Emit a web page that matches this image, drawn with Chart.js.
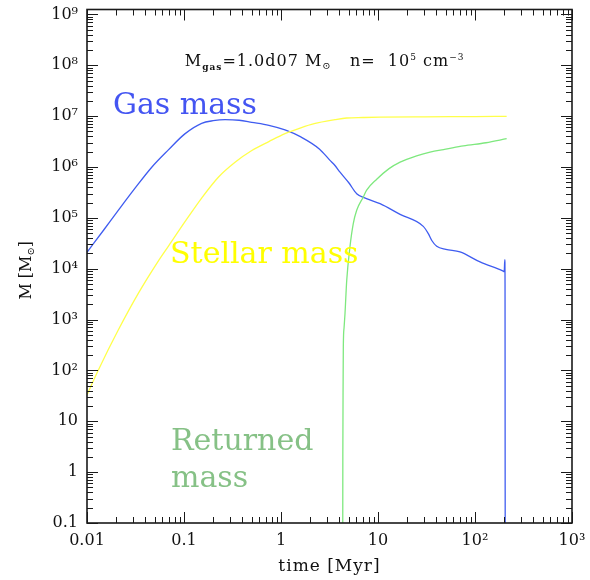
<!DOCTYPE html>
<html><head><meta charset="utf-8">
<script src="https://cdn.jsdelivr.net/npm/chart.js@4"></script>
<style>html,body{margin:0;padding:0;background:#fff}canvas{display:block}</style>
</head><body>
<canvas id="c" width="590" height="580"></canvas>
<script>
// ---- data (time in Myr, mass in solar masses) ----
const gasTime = [0.01,0.015,0.021,0.031,0.0465,0.069,0.102,0.152,0.2,0.265,0.37,0.5,0.75,1.1,1.6,2.5,3.2,3.6,4.06,5.0,6.03,7.6,10.5,16.9,29.3,33,36,40.3,50,70,112.7,193,200,203,204,205];
const gasMass = [2.1e4,5.9e4,1.4e5,3.74e5,9.9e5,2.17e6,4.48e6,7.23e6,8.13e6,8.53e6,8.3e6,7.55e6,6.6e6,5.36e6,3.9e6,2.24e6,1.35e6,1.07e6,7.9e5,4.9e5,2.99e5,2.38e5,1.9e5,1.17e5,6.8e4,4.9e4,3.55e4,2.76e4,2.4e4,2.14e4,1.36e4,9.1e3,8.8e3,1.5e4,5e3,1e-3];

const starTime = [0.01,0.0131,0.021,0.0338,0.0543,0.0689,0.102,0.152,0.226,0.336,0.5,0.75,1.1,1.6,2.2,3.6,4.75,7,10.5,30,100,212];
const starMass = [33,102,622,3270,1.41e4,2.75e4,8.3e4,2.45e5,6.3e5,1.24e6,2.11e6,3.16e6,4.53e6,5.9e6,7.1e6,8.5e6,9.2e6,9.4e6,9.55e6,9.7e6,9.8e6,9.9e6];

const retTime = [4.32,4.34,4.37,4.39,4.47,4.57,4.76,5.14,5.56,6.03,7.06,7.64,9.7,13,16.9,25,34.4,50,75.9,130,212];
const retMass = [1e-3,2,63,290,700,1.32e3,5.9e3,2.7e4,7.7e4,1.41e5,2.58e5,3.5e5,5.75e5,9.3e5,1.25e6,1.66e6,1.97e6,2.24e6,2.6e6,3.0e6,3.6e6];

const xTickValues = [0.01,0.1,1,10,100,1000];
const xTickLabels = ['0.01','0.1','1','10','10²','10³'];
const yTickValues = [0.1,1,10,100,1e3,1e4,1e5,1e6,1e7,1e8,1e9];
const yTickLabels = ['0.1','1','10','10²','10³','10⁴','10⁵','10⁶','10⁷','10⁸','10⁹'];

const FONT = "'DejaVu Serif', serif";

function pts(xs, ys){ return xs.map((x,i)=>({x:x, y:ys[i]})); }

const frameTicks = {
  id:'frameTicks',
  afterDatasetsDraw(chart){
    const ctx = chart.ctx, a = chart.chartArea;
    const xs = chart.scales.x, ys = chart.scales.y;
    ctx.save();
    ctx.strokeStyle = '#1a1a1a';
    ctx.lineWidth = 1;
    const draw = (scale, horiz) => {
      const lo = Math.floor(Math.log10(scale.min)), hi = Math.ceil(Math.log10(scale.max));
      for (let d = lo; d <= hi; d++) {
        for (let m = 1; m <= 9; m++) {
          const v = m * Math.pow(10, d);
          if (v < scale.min * 0.9999 || v > scale.max * 1.0001) continue;
          const p = Math.round(scale.getPixelForValue(v)) + 0.5;
          const len = (m === 1) ? 11 : 6;
          ctx.beginPath();
          if (horiz) {
            ctx.moveTo(p, a.bottom); ctx.lineTo(p, a.bottom - len);
            ctx.moveTo(p, a.top); ctx.lineTo(p, a.top + len);
          } else {
            ctx.moveTo(a.left, p); ctx.lineTo(a.left + len, p);
            ctx.moveTo(a.right, p); ctx.lineTo(a.right - len, p);
          }
          ctx.stroke();
        }
      }
    };
    draw(xs, true); draw(ys, false);
    ctx.lineWidth = 1.6;
    ctx.strokeRect(a.left, a.top, a.right - a.left, a.bottom - a.top);
    // tick labels
    ctx.fillStyle = '#111';
    ctx.font = '16px ' + FONT;
    ctx.textAlign = 'center';
    ctx.textBaseline = 'middle';
    xTickValues.forEach((v, i) => ctx.fillText(xTickLabels[i], xs.getPixelForValue(v), a.bottom + 18));
    ctx.textAlign = 'right';
    yTickValues.forEach((v, i) => ctx.fillText(yTickLabels[i], a.left - 9, ys.getPixelForValue(v)));
    ctx.restore();
  }
};

function drawRich(ctx, x, y, segs, color){
  let cx = x;
  ctx.fillStyle = color;
  ctx.textBaseline = 'alphabetic';
  ctx.textAlign = 'left';
  for (const s of segs) {
    ctx.font = (s.bold ? 'bold ' : '') + s.size + 'px ' + FONT;
    ctx.fillText(s.t, cx, y + (s.dy || 0));
    cx += ctx.measureText(s.t).width;
  }
  return cx - x;
}

const textLayer = {
  id:'textLayer',
  afterDatasetsDraw(chart){
    const ctx = chart.ctx;
    const xs = chart.scales.x, ys = chart.scales.y, a = chart.chartArea;
    const P = (x, y) => [xs.getPixelForValue(x), ys.getPixelForValue(y)];
    ctx.save();
    // header annotation
    ctx.letterSpacing = '1px';
    let [hx, hy] = P(0.102, 9.5e7);
    drawRich(ctx, hx, hy, [
      {t:'M', size:16},
      {t:'gas', size:9, bold:true, dy:4},
      {t:'=1.0d07 M', size:16},
      {t:'⊙', size:10, dy:3},
      {t:'   n=  10', size:16},
      {t:'5', size:9, dy:-6},
      {t:' cm', size:16},
      {t:'−3', size:9, dy:-6}
    ], '#111');
    ctx.letterSpacing = '0px';
    // curve labels
    ctx.font = '30px ' + FONT;
    ctx.textAlign = 'left';
    ctx.textBaseline = 'alphabetic';
    let p = P(0.01854, 1.08e7);
    ctx.fillStyle = '#4455f2'; ctx.fillText('Gas mass', p[0], p[1]);
    p = P(0.0718, 1.28e4);
    ctx.fillStyle = '#ffff00'; ctx.fillText('Stellar mass', p[0], p[1]);
    p = P(0.0735, 2.78);
    ctx.fillStyle = '#86c186'; ctx.fillText('Returned', p[0], p[1]);
    p = P(0.0735, 0.52);
    ctx.fillText('mass', p[0], p[1]);
    // x axis title
    ctx.fillStyle = '#111';
    ctx.font = '17px ' + FONT;
    ctx.letterSpacing = '1px';
    ctx.textAlign = 'center';
    ctx.fillText('time [Myr]', (a.left + a.right)/2, 571);
    ctx.letterSpacing = '0px';
    // y axis title (rotated)
    ctx.translate(31, (a.top + a.bottom)/2 + 4);
    ctx.rotate(-Math.PI/2);
    ctx.font = '16px ' + FONT;
    const w1 = ctx.measureText('M [M').width;
    ctx.font = '10px ' + FONT;
    const w2 = ctx.measureText('⊙').width;
    ctx.font = '16px ' + FONT;
    const w3 = ctx.measureText(']').width;
    const tot = w1 + w2 + w3;
    drawRich(ctx, -tot/2, 0, [
      {t:'M [M', size:16},
      {t:'⊙', size:10, dy:3},
      {t:']', size:16}
    ], '#111');
    ctx.restore();
  }
};

const lineDs = (label, xs, ys, color) => ({
  label, data: pts(xs, ys), borderColor: color, backgroundColor: color,
  borderWidth: 1.3, pointRadius: 0, fill: false,
  cubicInterpolationMode: 'monotone'
});

new Chart(document.getElementById('c'), {
  type: 'line',
  data: {
    datasets: [
      lineDs('Stellar mass', starTime, starMass, '#ffff4a'),
      lineDs('Returned mass', retTime, retMass, '#7ee87e'),
      lineDs('Gas mass', gasTime, gasMass, '#3f5cf0')
    ]
  },
  options: {
    responsive: false,
    animation: false,
    layout: { padding: { left: 87, right: 18, top: 9.5, bottom: 57 } },
    plugins: { legend: { display: false }, tooltip: { enabled: false } },
    scales: {
      x: { type: 'logarithmic', min: 0.01, max: 1000, display: false },
      y: { type: 'logarithmic', min: 0.1, max: 1.25e9, display: false }
    }
  },
  plugins: [frameTicks, textLayer]
});
</script>
</body></html>
